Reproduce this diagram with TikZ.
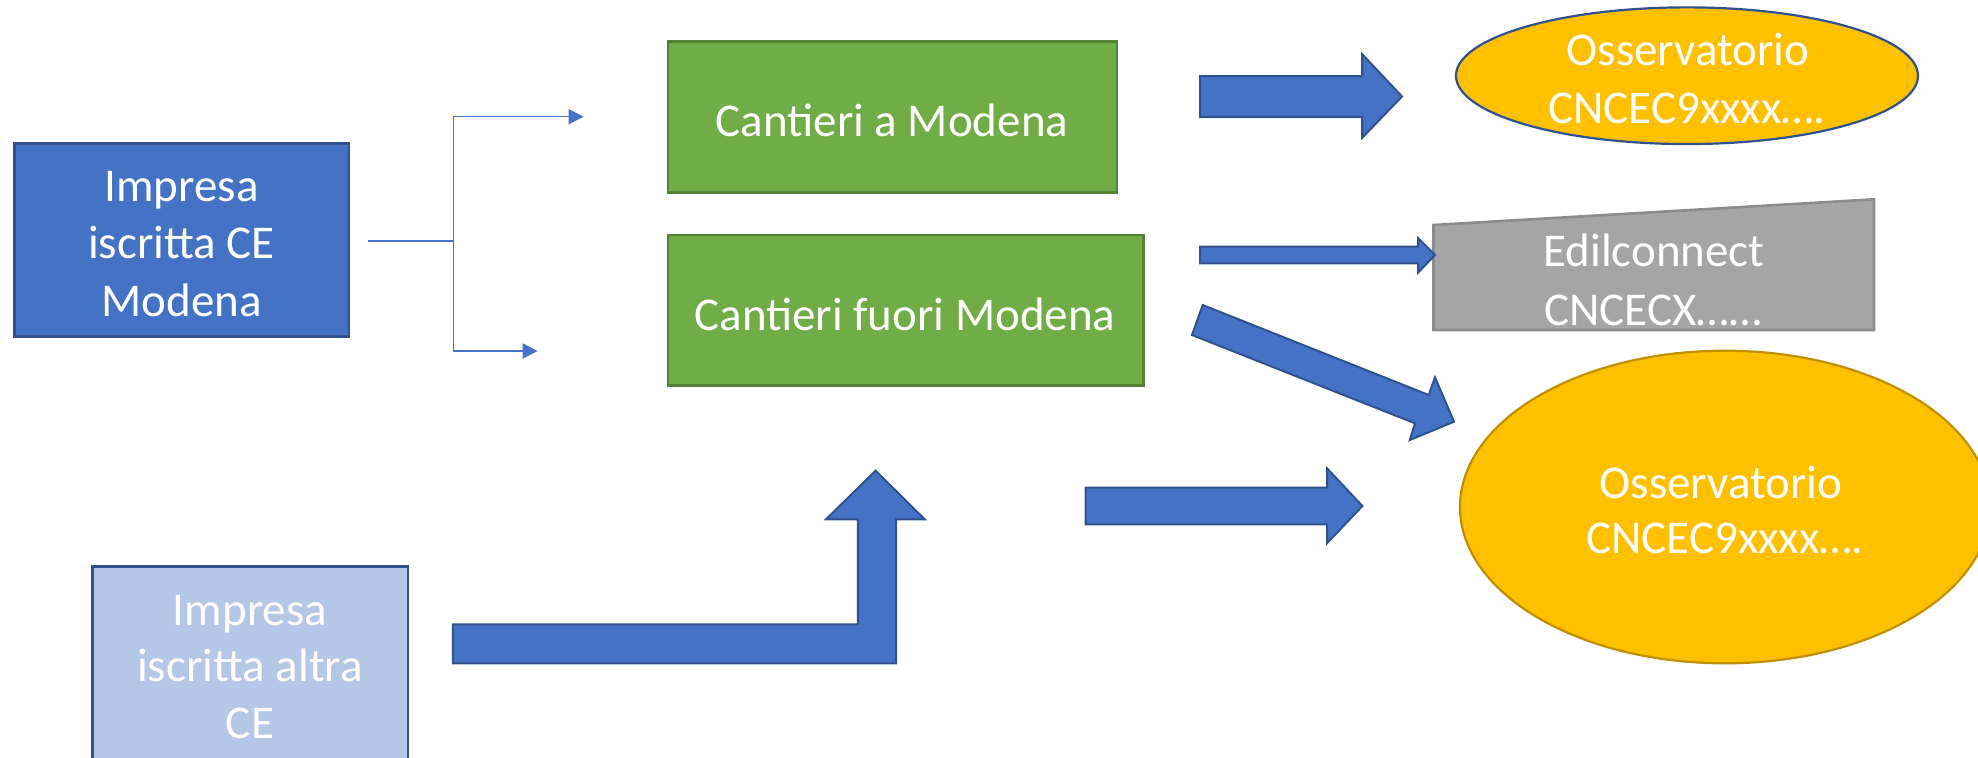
\documentclass[tikz,border=0pt]{standalone}
\usepackage{fontspec}
\setmainfont{Carlito}
\usetikzlibrary{shapes.geometric,arrows.meta}
\definecolor{mblue}{HTML}{4472C4}
\definecolor{dblue}{HTML}{2F528F}
\definecolor{lblue}{HTML}{B4C7E7}
\definecolor{mgreen}{HTML}{70AD47}
\definecolor{dgreen}{HTML}{548235}
\definecolor{myellow}{HTML}{FFC000}
\definecolor{dyellow}{HTML}{BF9000}
\definecolor{mgray}{HTML}{A5A5A5}
\definecolor{dgray}{HTML}{8C8C8C}
\begin{document}
\begin{tikzpicture}[x=0.5pt,y=-0.5pt,
  lbl/.style={text=white,font=\fontsize{23.5}{28}\selectfont,anchor=base,inner sep=0pt},
  boxshape/.style={rectangle,inner sep=0pt,line width=1.3pt},
  ellshape/.style={ellipse,inner sep=0pt,line width=1.1pt,fill=myellow},
  blockarrow/.style={fill=mblue,draw=dblue,line width=1pt,line join=miter},
  thinline/.style={draw=mblue,line width=0.75pt},
  thinarrow/.style={thinline,-{Triangle[length=7.5pt,width=7.5pt]}}]
\useasboundingbox (0,0) rectangle (1978,757);
\clip (0,0) rectangle (1978,757);

% shapes
\node[boxshape,fill=mblue,draw=dblue,minimum width=167.25pt,minimum height=96.7pt] (impce) at (181.75,240) {};
\node[boxshape,fill=mgreen,draw=dgreen,minimum width=224.5pt,minimum height=75.5pt] (canta) at (892.5,117.2) {};
\node[boxshape,fill=mgreen,draw=dgreen,minimum width=237.8pt,minimum height=75.35pt] (cantf) at (905.8,310.35) {};
\node[ellshape,draw=dblue,minimum width=231pt,minimum height=68.35pt] (obsA) at (1687,75.7) {};
\node[ellshape,draw=dyellow,minimum width=265pt,minimum height=156.3pt] (obsB) at (1725,507) {};
\node[boxshape,fill=lblue,draw=dblue,minimum width=157.75pt,minimum height=116.65pt] (altra) at (250.25,683.35) {};
\coordinate (e1) at (1433.5,225);
\coordinate (e2) at (1874,199.3);
\coordinate (e3) at (1874,330);
\coordinate (e4) at (1433.5,330);
\filldraw[fill=mgray,draw=dgray,line width=1.3pt] (e1) -- (e2) -- (e3) -- (e4) -- cycle;

% texts
\node[lbl] (impceA) at (181.5,201.7) {Impresa};
\node[lbl] (impceB) at (181.5,258.3) {iscritta CE};
\node[lbl] (impceC) at (181.5,316.7) {Modena};
\node[lbl] (cantaT) at (892,136.7) {Cantieri a Modena};
\node[lbl] (cantfT) at (905,330) {Cantieri fuori Modena};
\node[lbl] (obsAa) at (1688,65) {Osservatorio};
\node[lbl] (obsAb) at (1687,123) {CNCEC9xxxx….};
\node[lbl] (edilA) at (1654,266.7) {Edilconnect};
\node[lbl] (edilB) at (1653,325) {CNCECX……};
\node[lbl] (obsBa) at (1721,498.3) {Osservatorio};
\node[lbl] (obsBb) at (1725,553.3) {CNCEC9xxxx….};
\node[lbl] (altraA) at (250,625) {Impresa};
\node[lbl] (altraB) at (250,681.7) {iscritta altra};
\node[lbl] (altraC) at (250,738.3) {CE};

% thin split connector
\coordinate (sstart) at (368,241);
\coordinate (sjoin) at (453.5,241);
\coordinate (stop) at (583.6,116.7);
\coordinate (sbot) at (537.7,351);
\draw[thinline] (sstart) -- (sjoin);
\draw[thinarrow] (sjoin) |- (stop);
\draw[thinarrow] (sjoin) |- (sbot);

% block arrows
\filldraw[blockarrow] (1200,76) -- (1362,76) -- (1362,54) -- (1402,96.5) -- (1362,138) -- (1362,117) -- (1200,117) -- cycle;
\filldraw[blockarrow] (1200,246.7) -- (1418,246.7) -- (1418,238) -- (1435,255) -- (1418,272.7) -- (1418,263.3) -- (1200,263.3) -- cycle;
\filldraw[blockarrow] (1202.7,305) -- (1428.7,395) -- (1435,377.3) -- (1454,421.7) -- (1409.8,440) -- (1415,423.3) -- (1192,335) -- cycle;
\filldraw[blockarrow] (1085.5,487.7) -- (1327,487.7) -- (1327,468.3) -- (1362.4,506) -- (1327,543.3) -- (1327,524.3) -- (1085.5,524.3) -- cycle;
\filldraw[blockarrow] (452.8,624.3) -- (857.8,624.3) -- (857.8,519.3) -- (826,519.3) -- (875.6,470.7) -- (924.7,519.3) -- (896,519.3) -- (896,663.3) -- (452.8,663.3) -- cycle;
\end{tikzpicture}
\end{document}
